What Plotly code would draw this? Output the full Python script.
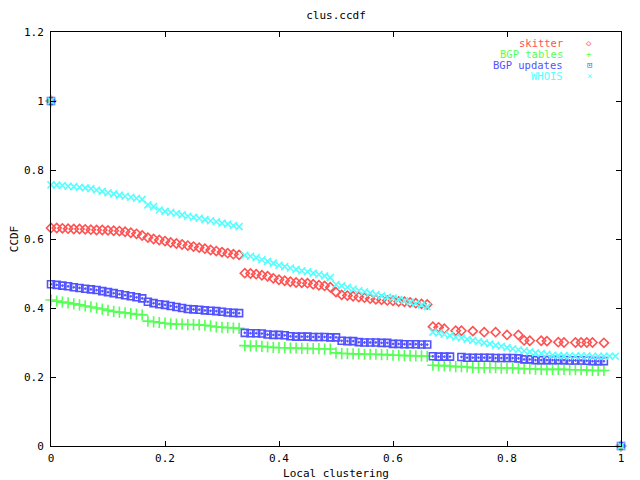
import plotly.graph_objects as go

# local clustering grid (shared x positions of the ccdf points)
clus = [0.00, 0.01, 0.02, 0.03, 0.04, 0.05, 0.06, 0.07, 0.08, 0.09,
        0.10, 0.11, 0.12, 0.13, 0.14, 0.15, 0.16, 0.17, 0.18, 0.19,
        0.20, 0.21, 0.22, 0.23, 0.24, 0.25, 0.26, 0.27, 0.28, 0.29,
        0.30, 0.31, 0.32, 0.33, 0.34, 0.35, 0.36, 0.37, 0.38, 0.39,
        0.40, 0.41, 0.42, 0.43, 0.44, 0.45, 0.46, 0.47, 0.48, 0.49,
        0.50, 0.51, 0.52, 0.53, 0.54, 0.55, 0.56, 0.57, 0.58, 0.59,
        0.60, 0.61, 0.62, 0.63, 0.64, 0.65, 0.66, 0.67, 0.68, 0.69,
        0.70, 0.71, 0.72, 0.73, 0.74, 0.75, 0.76, 0.77, 0.78, 0.79,
        0.80, 0.81, 0.82, 0.83, 0.84, 0.85, 0.86, 0.87, 0.88, 0.89,
        0.90, 0.91, 0.92, 0.93, 0.94, 0.95, 0.96, 0.97, 0.98, 0.99]

skitter = [0.632, 0.632, 0.631, 0.630, 0.629, 0.629, 0.628, 0.627, 0.626, 0.626,
           0.625, 0.624, 0.623, 0.621, 0.618, 0.615, 0.610, 0.604, 0.600, 0.597,
           0.594, 0.590, 0.587, 0.584, 0.581, 0.578, 0.575, 0.572, 0.568, 0.565,
           0.562, 0.559, 0.556, 0.554, 0.501, 0.500, 0.498, 0.495, 0.492, 0.486,
           0.482, 0.479, 0.476, 0.474, 0.473, 0.472, 0.469, 0.466, 0.464, 0.460,
           0.446, 0.438, 0.436, 0.434, 0.432, 0.430, 0.427, 0.425, 0.424, 0.422,
           0.421, 0.419, 0.418, 0.416, 0.414, 0.412, 0.410, 0.346, 0.344, 0.340,
           None, 0.334, 0.334, None, 0.333, None, 0.330, None, 0.330, None,
           0.322, None, 0.322, 0.306, 0.305, None, 0.305, 0.304, None, 0.301,
           0.300, None, 0.300, 0.300, 0.300, 0.300, None, 0.299, None, None]

bgp_tables = [0.423, 0.420, 0.417, 0.415, 0.412, 0.409, 0.406, 0.403, 0.400, 0.397,
              0.393, 0.390, 0.388, 0.386, 0.384, 0.382, 0.380, 0.362, 0.360, 0.358,
              0.356, 0.354, 0.353, 0.353, 0.352, 0.352, 0.351, 0.350, 0.348, 0.345,
              0.344, 0.343, 0.342, 0.341, 0.291, 0.290, 0.290, 0.289, 0.287, 0.286,
              0.285, 0.285, 0.284, 0.284, 0.283, 0.283, 0.282, 0.282, 0.281, 0.281,
              0.270, 0.268, 0.268, 0.267, 0.267, 0.266, 0.266, 0.266, 0.265, 0.265,
              0.263, 0.263, 0.262, 0.262, 0.261, 0.261, 0.260, 0.234, 0.233, 0.233,
              0.232, 0.230, 0.230, 0.229, 0.227, 0.227, 0.227, 0.227, 0.227, 0.226,
              0.226, 0.226, 0.225, 0.224, 0.224, 0.223, 0.222, 0.222, 0.222, 0.222,
              0.222, 0.221, 0.221, 0.221, 0.220, 0.219, 0.219, 0.219, None, None]

bgp_updates = [0.469, 0.467, 0.465, 0.463, 0.460, 0.458, 0.456, 0.454, 0.452, 0.449,
               0.446, 0.443, 0.440, 0.437, 0.434, 0.431, 0.428, 0.418, 0.414, 0.411,
               0.409, 0.406, 0.403, 0.400, 0.397, 0.396, 0.395, 0.393, 0.392, 0.391,
               0.389, 0.387, 0.386, 0.385, 0.328, 0.327, 0.327, 0.326, 0.323, 0.322,
               0.322, 0.321, 0.318, 0.317, 0.317, 0.317, 0.316, 0.316, 0.316, 0.315,
               0.315, 0.305, 0.304, 0.304, 0.301, 0.300, 0.300, 0.300, 0.299, 0.299,
               0.296, 0.296, 0.295, 0.295, 0.295, 0.294, 0.294, 0.260, 0.259, 0.259,
               0.259, None, 0.258, 0.256, 0.256, 0.256, 0.256, 0.256, 0.255, 0.255,
               0.255, 0.255, 0.254, 0.251, 0.251, 0.249, 0.249, 0.249, 0.249, 0.249,
               0.249, 0.248, 0.248, 0.248, 0.247, 0.246, 0.246, 0.246, None, None]

whois = [0.757, 0.756, 0.755, 0.753, 0.752, 0.750, 0.748, 0.746, 0.742, 0.738,
         0.734, 0.731, 0.727, 0.724, 0.721, 0.718, 0.715, 0.699, 0.694, 0.684,
         0.680, 0.677, 0.674, 0.670, 0.666, 0.663, 0.660, 0.656, 0.653, 0.650,
         0.646, 0.643, 0.639, 0.636, 0.553, 0.550, 0.546, 0.540, 0.535, 0.530,
         0.524, 0.520, 0.516, 0.512, 0.508, 0.505, 0.501, 0.497, 0.493, 0.488,
         0.468, 0.464, 0.460, 0.455, 0.450, 0.447, 0.443, 0.439, 0.435, 0.432,
         0.429, 0.425, 0.421, 0.417, 0.413, 0.409, 0.404, 0.330, 0.327, 0.324,
         0.320, 0.316, 0.313, 0.309, 0.306, 0.303, 0.299, 0.296, 0.292, 0.289,
         0.285, 0.282, 0.279, 0.276, 0.273, 0.270, 0.268, 0.266, 0.263, 0.262,
         0.262, 0.261, 0.261, 0.261, 0.261, 0.260, 0.260, 0.260, 0.260, 0.260]

# ccdf end points shared by every data set
end_x = [0, 1]
end_y = [1, 0]

names = ['skitter', 'BGP tables', 'BGP updates', 'WHOIS']
series = [skitter, bgp_tables, bgp_updates, whois]
colors = ['#ff5252', '#55ff55', '#5252ff', '#55ffff']
symbols = ['diamond-open', 'cross-thin-open', 'square-open-dot', 'x-thin-open']
sizes = [7, 8, 7, 7]
key_glyphs = ['\u25c7', '+', '\u22a1', '\u00d7']

FONT = 'DejaVu Sans Mono'

fig = go.Figure()
for name, ys, col, sym, sz in zip(names, series, colors, symbols, sizes):
    fig.add_trace(go.Scatter(
        x=clus + [None] + end_x, y=ys + [None] + end_y,
        mode='markers', name=name, showlegend=False, cliponaxis=False,
        marker=dict(symbol=sym, size=sz, color=col, line=dict(color=col, width=1.6))
    ))

# gnuplot style key: right aligned label followed by the point symbol
for i, (name, col, g) in enumerate(zip(names, colors, key_glyphs)):
    yk = 0.9742 - i * 0.0268
    fig.add_annotation(text=name, xref='paper', yref='paper', x=0.9018, y=yk,
                       xanchor='right', yanchor='middle', showarrow=False,
                       font=dict(family=FONT, size=10.5, color=col))
    fig.add_annotation(text=g, xref='paper', yref='paper', x=0.9439, y=yk,
                       xanchor='center', yanchor='middle', showarrow=False,
                       font=dict(family=FONT, size=9, color=col))

axis_style = dict(showline=True, linecolor='black', linewidth=1, mirror='ticks',
                  ticks='inside', ticklen=5, tickcolor='black', showgrid=False,
                  zeroline=False, automargin=False,
                  tickfont=dict(family=FONT, size=11, color='black'))

fig.update_xaxes(range=[0, 1], dtick=0.2, ticklabelstandoff=2,
                 title=dict(text='Local clustering', standoff=5,
                            font=dict(family=FONT, size=11, color='black')), **axis_style)
fig.update_yaxes(range=[0, 1.2], dtick=0.2, ticklabelstandoff=4,
                 title=dict(text='CCDF', standoff=6,
                            font=dict(family=FONT, size=11, color='black')), **axis_style)

# the page puts the figure 8px in from the top left corner
fig.update_layout(
    width=632, height=472,
    margin=dict(l=43, r=19, t=24, b=34),
    paper_bgcolor='white', plot_bgcolor='white',
    title=dict(text='clus.ccdf', x=0.5, xref='paper', y=0.984, yanchor='middle',
               font=dict(family=FONT, size=11, color='black')),
)

fig.write_html("out.html")
